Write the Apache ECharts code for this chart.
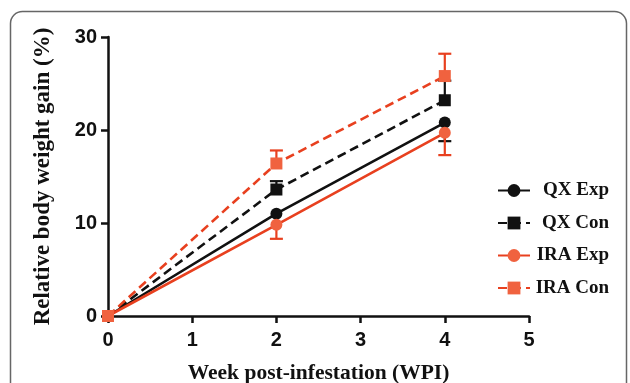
<!DOCTYPE html>
<html><head><meta charset="utf-8">
<script src="https://cdn.jsdelivr.net/npm/echarts@6/dist/echarts.min.js"></script>
<style>html,body{margin:0;padding:0;background:#fff}#c{width:630px;height:383px}</style>
</head><body><div id="c"></div>
<script>
var weeks = [0, 2, 4];
var xTicks = [0, 1, 2, 3, 4, 5];
var yTicks = [0, 10, 20, 30];
var seriesNames = ['QX Exp', 'QX Con', 'IRA Exp', 'IRA Con'];
var qxExp = [0, 11.0, 20.8];
var qxCon = [0, 13.6, 23.2];
var iraExp = [0, 9.8, 19.7];
var iraCon = [0, 16.4, 25.8];
// error bar size (one-sided: -1 lower, +1 upper)
var qxExpErr = [0, 0, 2.0];
var qxConErr = [0, 0.9, 2.1];
var iraExpErr = [0, 1.5, 2.4];
var iraConErr = [0, 1.4, 2.4];
var errDir = [-1, 1, -1, 1];

var BLACK = '#111111', RED = '#e8401f', ORANGE = '#f0623f';
var values = [qxExp, qxCon, iraExp, iraCon];
var errs = [qxExpErr, qxConErr, iraExpErr, iraConErr];
var lineColors = [BLACK, BLACK, RED, RED];
var markColors = [BLACK, BLACK, ORANGE, ORANGE];
var symbols = ['circle', 'rect', 'circle', 'rect'];
var dashed = [false, true, false, true];

var chart = echarts.init(document.getElementById('c'), null, {renderer: 'canvas'});
var series = [];
values.forEach(function (vals, i) {
  var errData = [];
  weeks.forEach(function (w, j) {
    if (errs[i][j] > 0) errData.push([w, vals[j], vals[j] + errDir[i] * errs[i][j]]);
  });
  series.push({
    type: 'custom', name: seriesNames[i] + ' err', z: 1, silent: true,
    data: errData,
    encode: {x: 0, y: [1, 2]},
    renderItem: function (params, api) {
      var p0 = api.coord([api.value(0), api.value(1)]);
      var p1 = api.coord([api.value(0), api.value(2)]);
      var hw = 6.5;
      return {type: 'group', children: [
        {type: 'line', shape: {x1: p0[0], y1: p0[1], x2: p1[0], y2: p1[1]}, style: {stroke: lineColors[i], lineWidth: 2.2}},
        {type: 'line', shape: {x1: p1[0] - hw, y1: p1[1], x2: p1[0] + hw, y2: p1[1]}, style: {stroke: lineColors[i], lineWidth: 2.2}}
      ]};
    }
  });
});
values.forEach(function (vals, i) {
  series.push({
    type: 'line', name: seriesNames[i], z: 3 + i,
    data: weeks.map(function (w, j) { return [w, vals[j]]; }),
    symbol: symbols[i], symbolSize: 12,
    showAllSymbol: true,
    lineStyle: {color: lineColors[i], width: 2.6, type: dashed[i] ? [9, 5] : 'solid'},
    itemStyle: {color: markColors[i], borderWidth: 0},
    emphasis: {disabled: true}
  });
});

chart.setOption({
  animation: false,
  backgroundColor: '#fff',
  graphic: [{
    type: 'rect', shape: {x: 10.5, y: 11.5, width: 616, height: 420, r: 12},
    style: {fill: 'none', stroke: '#666', lineWidth: 1.5}, z: 0
  }],
  grid: {left: 108, right: 101, top: 37, bottom: 67, containLabel: false, outerBoundsMode: 'none'},
  legend: {
    data: seriesNames.map(function (n) { return {name: n}; }),
    orient: 'vertical', left: 497, top: 181, padding: 0,
    itemWidth: 32, itemHeight: 16, itemGap: 13.5,
    formatter: function (n) { return '{a|' + n + '}'; },
    textStyle: {
      rich: {a: {fontFamily: 'Liberation Serif', fontWeight: 'bold', fontSize: 19, lineHeight: 21, color: '#111', width: 74, align: 'right'}}
    }
  },
  xAxis: {
    type: 'value', min: 0, max: 5, interval: 1,
    name: 'Week post-infestation (WPI)', nameLocation: 'middle', nameGap: 46,
    nameTextStyle: {fontFamily: 'Liberation Serif', fontWeight: 'bold', fontSize: 21.5, color: '#111'},
    axisLine: {lineStyle: {color: '#111', width: 2.5}},
    axisTick: {length: 7, lineStyle: {color: '#111', width: 2.5}},
    axisLabel: {fontFamily: 'Liberation Sans', fontWeight: 'bold', fontSize: 20, color: '#111', margin: 14,
      formatter: function (v) { return xTicks.indexOf(v) >= 0 ? String(v) : ''; }},
    splitLine: {show: false}
  },
  yAxis: {
    type: 'value', min: 0, max: 30, interval: 10,
    name: 'Relative body weight gain (%)', nameLocation: 'middle', nameGap: 53,
    nameTextStyle: {fontFamily: 'Liberation Serif', fontWeight: 'bold', fontSize: 23, color: '#111'},
    axisLine: {show: true, lineStyle: {color: '#111', width: 2.5}},
    axisTick: {show: true, length: 7, lineStyle: {color: '#111', width: 2.5}},
    axisLabel: {fontFamily: 'Liberation Sans', fontWeight: 'bold', fontSize: 20, color: '#111', margin: 11,
      formatter: function (v) { return yTicks.indexOf(v) >= 0 ? String(v) : ''; }},
    splitLine: {show: false}
  },
  series: series
});
</script></body></html>
